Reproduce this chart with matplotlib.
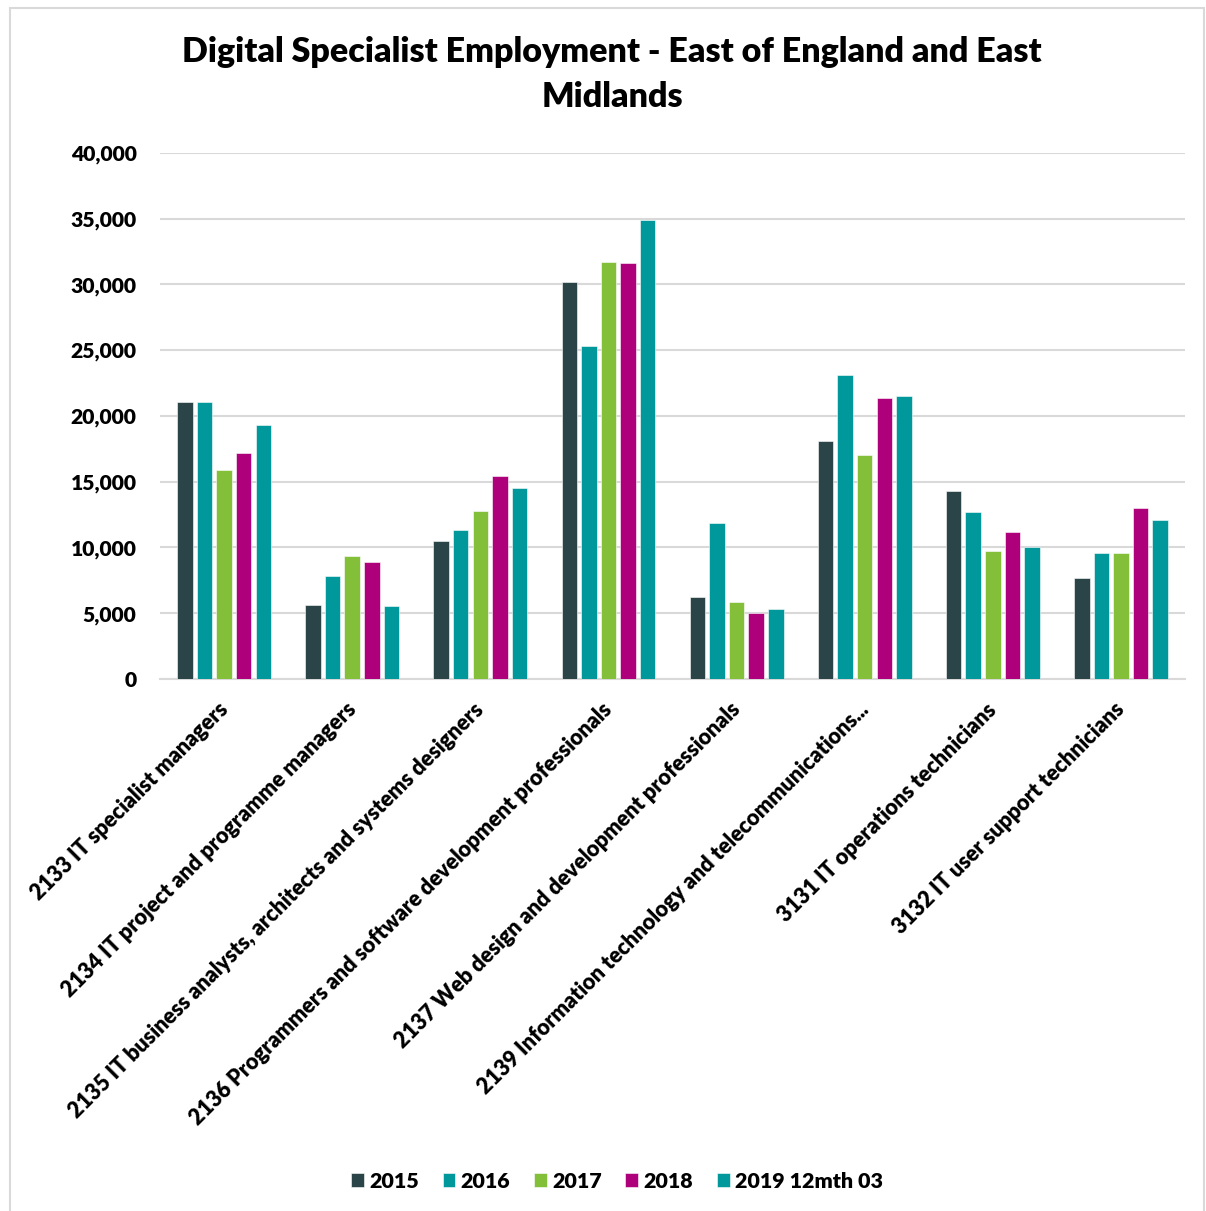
import matplotlib
matplotlib.use("Agg")
import matplotlib.pyplot as plt
import matplotlib.transforms as mtransforms
from matplotlib.patches import Rectangle
import numpy as np

plt.rcParams['font.family'] = ['Lato', 'DejaVu Sans']
W = 'heavy'

# occupations (SOC codes) and yearly employment counts
categories = [
    "2133 IT specialist managers",
    "2134 IT project and programme managers",
    "2135 IT business analysts, architects and systems designers",
    "2136 Programmers and software development professionals",
    "2137 Web design and development professionals",
    "2139 Information technology and telecommunications...",
    "3131 IT operations technicians",
    "3132 IT user support technicians",
]
series_names = ["2015", "2016", "2017", "2018", "2019 12mth 03"]
v2015 = [21100, 5650, 10500, 30200, 6250, 18100, 14300, 7700]
v2016 = [21100, 7800, 11300, 25300, 11850, 23100, 12700, 9600]
v2017 = [15900, 9350, 12800, 31700, 5850, 17000, 9700, 9600]
v2018 = [17200, 8900, 15400, 31600, 5000, 21400, 11200, 13000]
v2019 = [19300, 5550, 14500, 34900, 5300, 21500, 10000, 12100]
colors = ["#2B4447", "#00989B", "#84BF3A", "#AF007B", "#00989B"]

all_series = [v2015, v2016, v2017, v2018, v2019]

fig = plt.figure(figsize=(12.06, 12.11), dpi=100)
ax = fig.add_axes([0.1327, 0.4393, 0.8499, 0.4344])

x = np.arange(len(categories))
pitch = 0.153
bw = 0.121
for i, (vals, name, c) in enumerate(zip(all_series, series_names, colors)):
    ax.bar(x + (i - 2) * pitch, vals, width=bw, color=c, label=name,
           edgecolor='white', linewidth=0.4, zorder=3)

ax.set_xlim(-0.5, len(categories) - 0.5)
ax.set_ylim(0, 40000)
ax.set_yticks(np.arange(0, 40001, 5000))
ax.set_yticklabels([f"{int(v):,}" for v in np.arange(0, 40001, 5000)],
                   fontsize=15.2, fontweight=W)
ax.yaxis.grid(True, color='#D9D9D9', linewidth=1.5, zorder=0)
ax.tick_params(axis='y', length=0, pad=17)
ax.tick_params(axis='x', length=0, pad=13)
for side in ['top', 'right', 'left']:
    ax.spines[side].set_visible(False)
ax.spines['bottom'].set_color('#D9D9D9')
ax.spines['bottom'].set_linewidth(1.5)

ax.set_xticks(x)
ax.set_xticklabels(categories, rotation=45, ha='right', va='top',
                   rotation_mode='anchor', fontsize=15.6, fontweight=W)
shift = mtransforms.ScaledTranslation(-7 / 100, -2 / 100, fig.dpi_scale_trans)
for lbl in ax.get_xticklabels():
    lbl.set_transform(lbl.get_transform() + shift)

fig.text(612 / 1206, 1 - 52 / 1211, "Digital Specialist Employment - East of England and East",
         ha='center', va='center', fontsize=24.5, fontweight=W)
fig.text(612 / 1206, 1 - 97 / 1211, "Midlands",
         ha='center', va='center', fontsize=24.5, fontweight=W)

fig.legend(loc='center', bbox_to_anchor=(617 / 1206, 1 - 1181 / 1211), ncol=5,
           frameon=False, handlelength=0.6, handleheight=0.6,
           handletextpad=0.25, columnspacing=1.1, prop={'weight': W, 'size': 15.4})

# light frame round the chart
fig.patches.append(Rectangle((10 / 1206, -0.01), 1194 / 1206, 1.01 - 8 / 1211,
                             transform=fig.transFigure, fill=False,
                             edgecolor='#D9D9D9', linewidth=1.5))

fig.savefig("out.png", dpi=100, facecolor='white')
